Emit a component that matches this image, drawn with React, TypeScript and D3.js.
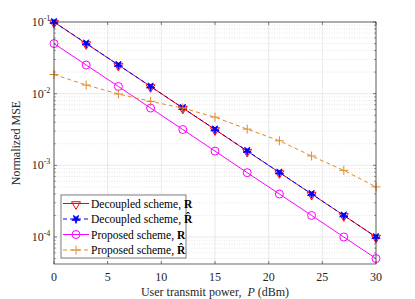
import React from "react";
import * as d3 from "d3";

const powers = [0, 3, 6, 9, 12, 15, 18, 21, 24, 27, 30];
const decoupledR = [0.1, 0.0501, 0.0251, 0.0126, 0.00631, 0.00316, 0.00158, 0.000794, 0.000398, 0.0002, 0.0001];
const decoupledRhat = [0.1, 0.0502, 0.0252, 0.0126, 0.00632, 0.00317, 0.00159, 0.000795, 0.000399, 0.0002, 0.0001];
const proposedR = [0.05, 0.0251, 0.0126, 0.0063, 0.00316, 0.00158, 0.00079, 0.000398, 0.0002, 0.0001, 0.00005];
const proposedRhat = [0.0185, 0.0132, 0.0099, 0.0078, 0.0063, 0.0047, 0.0032, 0.0022, 0.00135, 0.00085, 0.0005];
const xTicks = [0, 5, 10, 15, 20, 25, 30];
const yTickExps = [-1, -2, -3, -4];

const W = 415, H = 299;
const L = 54, R = 376, T = 22, B = 264;
const FONT = "'Liberation Serif'";
const RED = "#ff0000", BLUE = "#0000ff", MAG = "#ff00ff", ORANGE = "#e3892b";

export default function App() {
  const x = d3.scaleLinear().domain([0, 30]).range([L, R]);
  const y = d3.scaleLog().domain([4.2e-5, 0.1]).range([B, T]);
  const line = (vals: number[]) =>
    d3.line<number>().x((_, i) => x(powers[i])).y((v) => y(v))(vals) || "";

  const minor: number[] = [];
  for (let e = -5; e <= -2; e++) {
    for (let k = 2; k <= 9; k++) {
      const v = k * Math.pow(10, e);
      if (v >= 4.2e-5 && v < 0.1) minor.push(v);
    }
  }

  const tri = d3.symbol().type(d3.symbolTriangle).size(34)() || "";
  const star = d3.symbol().type(d3.symbolStar).size(22)() || "";

  const marker = (kind: string, cx: number, cy: number, key: any) => {
    if (kind === "tri")
      return <path key={key} d={tri} transform={`translate(${cx},${cy + 0.8}) rotate(180)`} fill="none" stroke={RED} strokeWidth={1} />;
    if (kind === "star")
      return <path key={key} d={star} transform={`translate(${cx},${cy}) rotate(36)`} fill={BLUE} stroke={BLUE} strokeWidth={0.8} strokeLinejoin="round" />;
    if (kind === "circ")
      return <circle key={key} cx={cx} cy={cy} r={4} fill="none" stroke={MAG} strokeWidth={1} />;
    return (
      <g key={key} stroke={ORANGE} strokeWidth={1}>
        <line x1={cx - 4.5} x2={cx + 4.5} y1={cy} y2={cy} />
        <line x1={cx} x2={cx} y1={cy - 4.5} y2={cy + 4.5} />
      </g>
    );
  };

  const series = [
    { vals: decoupledR, color: RED, dash: "", kind: "tri", label: "Decoupled scheme, ", sym: "R" },
    { vals: decoupledRhat, color: BLUE, dash: "4,3", kind: "star", label: "Decoupled scheme, ", sym: "R\u0302" },
    { vals: proposedR, color: MAG, dash: "", kind: "circ", label: "Proposed scheme, ", sym: "R" },
    { vals: proposedRhat, color: ORANGE, dash: "4,3", kind: "plus", label: "Proposed scheme, ", sym: "R\u0302" },
  ];

  const legY = [203.5, 219, 234.5, 250];
  const tstyle = { fontFamily: FONT };

  return (
    <svg width={W} height={H} style={{ position: "absolute", left: 0, top: 0, background: "#fff" }}>
      <rect x={L} y={T} width={R - L} height={B - T} fill="#fff" />
      {minor.map((v, i) => (
        <line key={"mg" + i} x1={L} x2={R} y1={y(v)} y2={y(v)} stroke="#d4d4d4" strokeWidth={0.6} strokeDasharray="1,1.5" />
      ))}
      {yTickExps.map((e) => (
        <line key={"yg" + e} x1={L} x2={R} y1={y(Math.pow(10, e))} y2={y(Math.pow(10, e))} stroke="#e3e3e3" strokeWidth={0.8} />
      ))}
      {xTicks.map((t) => (
        <line key={"xg" + t} x1={x(t)} x2={x(t)} y1={T} y2={B} stroke="#e3e3e3" strokeWidth={0.8} />
      ))}
      {xTicks.map((t) => (
        <g key={"xt" + t} stroke="#333" strokeWidth={0.6}>
          <line x1={x(t)} x2={x(t)} y1={B} y2={B - 3} />
          <line x1={x(t)} x2={x(t)} y1={T} y2={T + 3} />
        </g>
      ))}
      {yTickExps.map((e) => (
        <g key={"yt" + e} stroke="#333" strokeWidth={0.6}>
          <line x1={L} x2={L + 3} y1={y(Math.pow(10, e))} y2={y(Math.pow(10, e))} />
          <line x1={R} x2={R - 3} y1={y(Math.pow(10, e))} y2={y(Math.pow(10, e))} />
        </g>
      ))}
      {minor.map((v, i) => (
        <g key={"ymt" + i} stroke="#333" strokeWidth={0.5}>
          <line x1={L} x2={L + 1.8} y1={y(v)} y2={y(v)} />
          <line x1={R} x2={R - 1.8} y1={y(v)} y2={y(v)} />
        </g>
      ))}
      {series.map((s, si) => (
        <g key={"s" + si}>
          <path d={line(s.vals)} fill="none" stroke={s.color} strokeWidth={1} strokeDasharray={s.dash || undefined} />
          {s.vals.map((v, i) => marker(s.kind, x(powers[i]), y(v), "m" + si + "_" + i))}
        </g>
      ))}
      <rect x={L} y={T} width={R - L} height={B - T} fill="none" stroke="#262626" strokeWidth={0.7} />
      {xTicks.map((t) => (
        <text key={"xl" + t} style={tstyle} x={x(t)} y={281} textAnchor="middle" fontSize={12} fill="#262626">{t}</text>
      ))}
      {yTickExps.map((e) => (
        <text key={"yl" + e} style={tstyle} x={41} y={y(Math.pow(10, e)) + 4} textAnchor="middle" fontSize={12} fill="#262626">
          10<tspan dy={-5} fontSize={8}>{e}</tspan>
        </text>
      ))}
      <text style={tstyle} x={x(15)} y={296} textAnchor="middle" fontSize={12} fill="#262626">
        User transmit power,{"\u00a0\u00a0"}<tspan fontStyle="italic">P</tspan> (dBm)
      </text>
      <text style={tstyle} transform={`translate(20,${(T + B) / 2}) rotate(-90)`} textAnchor="middle" fontSize={12} fill="#262626">
        Normalized MSE
      </text>
      <rect x={61} y={195} width={125} height={63} fill="#fff" stroke="#262626" strokeWidth={0.6} />
      {series.map((s, si) => (
        <g key={"lg" + si}>
          <line x1={63} x2={89} y1={legY[si]} y2={legY[si]} stroke={s.color} strokeWidth={1} strokeDasharray={s.dash || undefined} />
          {marker(s.kind, 76, legY[si], "lm" + si)}
          <text style={tstyle} x={91} y={legY[si] + 4} fontSize={11.5} fill="#000">
            {s.label}
            <tspan fontWeight="bold">{s.sym}</tspan>
          </text>
        </g>
      ))}
    </svg>
  );
}
